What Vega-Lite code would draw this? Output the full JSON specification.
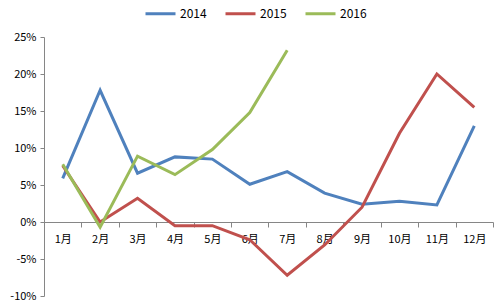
{
  "$schema": "https://vega.github.io/schema/vega-lite/v6.json",
  "width": 449,
  "height": 259,
  "autosize": {"type": "none"},
  "padding": {"left": 44, "top": 37, "right": 7, "bottom": 8},
  "background": "white",
  "config": {
    "view": {"stroke": null},
    "font": "Noto Sans CJK SC",
    "axis": {"labelFont": "Noto Sans CJK SC", "labelFontSize": 11, "labelColor": "#000000", "grid": false, "domainColor": "#868686", "tickColor": "#868686"},
    "legend": {"labelFont": "Noto Sans CJK SC", "labelFontSize": 12, "labelColor": "#000000"}
  },
  "data": {
    "values": [
      {"month": "1月", "year": "2014", "v": 5.9},
      {"month": "2月", "year": "2014", "v": 17.8},
      {"month": "3月", "year": "2014", "v": 6.6},
      {"month": "4月", "year": "2014", "v": 8.8},
      {"month": "5月", "year": "2014", "v": 8.5},
      {"month": "6月", "year": "2014", "v": 5.1},
      {"month": "7月", "year": "2014", "v": 6.8},
      {"month": "8月", "year": "2014", "v": 3.9},
      {"month": "9月", "year": "2014", "v": 2.4},
      {"month": "10月", "year": "2014", "v": 2.8},
      {"month": "11月", "year": "2014", "v": 2.3},
      {"month": "12月", "year": "2014", "v": 13.0},
      {"month": "1月", "year": "2015", "v": 7.6},
      {"month": "2月", "year": "2015", "v": 0.0},
      {"month": "3月", "year": "2015", "v": 3.2},
      {"month": "4月", "year": "2015", "v": -0.5},
      {"month": "5月", "year": "2015", "v": -0.5},
      {"month": "6月", "year": "2015", "v": -2.4},
      {"month": "7月", "year": "2015", "v": -7.2},
      {"month": "8月", "year": "2015", "v": -3.1},
      {"month": "9月", "year": "2015", "v": 2.0},
      {"month": "10月", "year": "2015", "v": 12.0},
      {"month": "11月", "year": "2015", "v": 20.0},
      {"month": "12月", "year": "2015", "v": 15.5},
      {"month": "1月", "year": "2016", "v": 7.8},
      {"month": "2月", "year": "2016", "v": -0.7},
      {"month": "3月", "year": "2016", "v": 8.9},
      {"month": "4月", "year": "2016", "v": 6.4},
      {"month": "5月", "year": "2016", "v": 9.8},
      {"month": "6月", "year": "2016", "v": 14.8},
      {"month": "7月", "year": "2016", "v": 23.2}
    ]
  },
  "mark": {"type": "line", "strokeWidth": 3},
  "encoding": {
    "x": {
      "field": "month",
      "type": "ordinal",
      "sort": ["1月","2月","3月","4月","5月","6月","7月","8月","9月","10月","11月","12月"],
      "scale": {"type": "band", "paddingInner": 0, "paddingOuter": 0},
      "axis": {"title": null, "offset": -74, "labelAngle": 0, "tickBand": "extent", "tickSize": 5, "labelPadding": 6, "domainWidth": 1}
    },
    "y": {
      "field": "v",
      "type": "quantitative",
      "scale": {"domain": [-10, 25], "nice": false},
      "axis": {"title": null, "values": [-10, -5, 0, 5, 10, 15, 20, 25], "labelExpr": "datum.value + '%'", "tickSize": 4, "labelPadding": 4}
    },
    "color": {
      "field": "year",
      "type": "nominal",
      "scale": {"domain": ["2014", "2015", "2016"], "range": ["#4F81BD", "#C0504D", "#9BBB59"]},
      "legend": {"title": null, "orient": "none", "legendX": 100, "legendY": -40, "direction": "horizontal", "symbolType": "stroke", "symbolSize": 900, "symbolStrokeWidth": 3, "labelOffset": 3, "columnPadding": 12}
    }
  }
}
